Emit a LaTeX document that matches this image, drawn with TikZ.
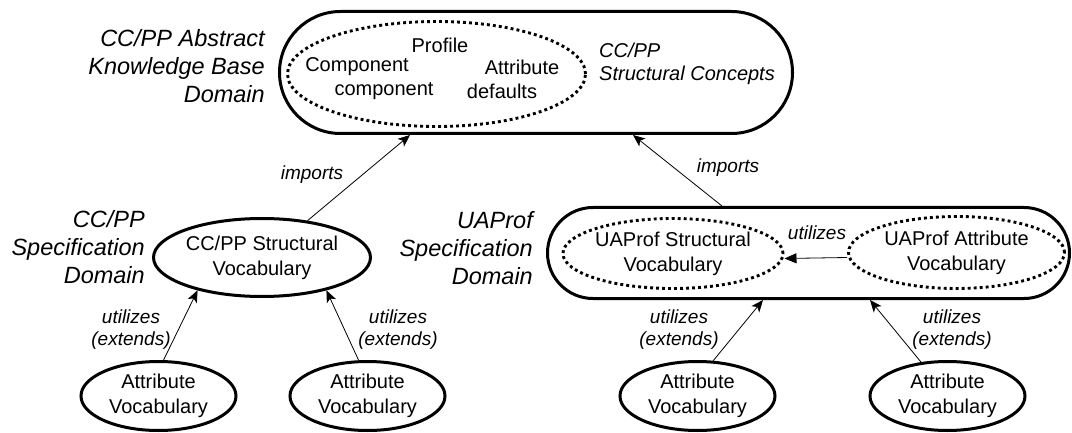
\documentclass[tikz,border=0pt]{standalone}
\usepackage{fontspec}
\setmainfont{Liberation Sans}
\usepackage{tikz}
\usetikzlibrary{arrows.meta}
\usetikzlibrary{shapes.geometric}

\tikzset{
	domainbox/.style = {draw, line width = 3pt, inner sep = 0pt},
	vocab/.style = {draw, ellipse, line width = 3pt, inner sep = 0pt, align = center, font = \fontsize{20}{25}\selectfont},
	dotvocab/.style = {vocab, line width = 2.9pt, dash pattern = on 2.9pt off 3.1pt},
	plaintext/.style = {inner sep = 0pt, font = \fontsize{20}{25}\selectfont},
	domainlabel/.style = {inner sep = 0pt, align = right, font = \fontsize{23.5}{28}\selectfont\itshape},
	linklabel/.style = {inner sep = 0pt, align = center, font = \fontsize{19}{22}\selectfont\itshape},
	link/.style = {-{Stealth[length = 12pt, width = 10pt, inset = 3pt]}, line width = 0.8pt},
}

\begin{document}
\begin{tikzpicture}[x = 1pt, y = -1pt]
	\useasboundingbox (0,0) rectangle (1072,433);

	% abstract knowledge base domain
	\node [domainbox, minimum width = 513pt, minimum height = 122pt, rounded corners = 61pt] (kb) at (536,72.5) {};
	\node [dotvocab, minimum width = 298pt, minimum height = 105pt] (concepts) at (436.5,74) {};
	\node [plaintext] (profile) at (440,45) {Profile};
	\node [plaintext] (component) at (357,67) {Component};
	\node [plaintext] (attribute) at (522,67) {Attribute};
	\node [plaintext] (compcomp) at (384,91) {component};
	\node [plaintext] (defaults) at (502,91) {defaults};
	\node [plaintext, align = left, anchor = west, font = \fontsize{20}{23}\selectfont\itshape] (conceptslabel) at (599,64) {CC/PP\\Structural Concepts};
	\node [domainlabel, anchor = east] (kblabel) at (265,66) {CC/PP Abstract\\Knowledge Base\\Domain};

	% CC/PP specification domain
	\node [vocab, minimum width = 217pt, minimum height = 78pt] (ccvocab) at (262,257.5) {CC/PP Structural\\Vocabulary};
	\node [domainlabel, anchor = east] (cclabel) at (145,247) {CC/PP\\Specification\\Domain};

	% UAProf specification domain
	\node [domainbox, minimum width = 522pt, minimum height = 91pt, rounded corners = 45.5pt] (uap) at (808.5,253) {};
	\node [dotvocab, minimum width = 217pt, minimum height = 70pt] (uastruct) at (673,253.5) {UAProf Structural\\Vocabulary};
	\node [dotvocab, minimum width = 216pt, minimum height = 72pt] (uaattr) at (956.5,252.5) {UAProf Attribute\\Vocabulary};
	\node [domainlabel, anchor = east] (uaplabel) at (533,248) {UAProf\\Specification\\Domain};

	% attribute vocabularies
	\node [vocab, minimum width = 155pt, minimum height = 69pt] (attrA) at (158.5,396) {Attribute\\Vocabulary};
	\node [vocab, minimum width = 155pt, minimum height = 69pt] (attrB) at (367.5,396) {Attribute\\Vocabulary};
	\node [vocab, minimum width = 155pt, minimum height = 69pt] (attrC) at (697.5,396) {Attribute\\Vocabulary};
	\node [vocab, minimum width = 155pt, minimum height = 69pt] (attrD) at (947.5,396) {Attribute\\Vocabulary};

	% imports
	\draw [link] (ccvocab.39) -- ([xshift = -126pt]kb.south);
	\draw [link] ([xshift = -86.5pt]uap.north) -- ([xshift = 97pt]kb.south);
	\node [linklabel] (importsA) at (312,175) {imports};
	\node [linklabel] (importsB) at (728,168) {imports};

	% utilizes (extends)
	\draw [link] (attrA.82) -- (ccvocab.207);
	\draw [link] (attrB.104) -- (ccvocab.333);
	\draw [link] (attrC.66) -- ([xshift = -45.5pt]uap.south);
	\draw [link] (attrD.128) -- ([xshift = 61.5pt]uap.south);
	\node [linklabel] (extendsA) at (131,330) {utilizes\\(extends)};
	\node [linklabel] (extendsB) at (398,330) {utilizes\\(extends)};
	\node [linklabel] (extendsC) at (679,330) {utilizes\\(extends)};
	\node [linklabel] (extendsD) at (952,330) {utilizes\\(extends)};

	% utilizes inside UAProf
	\draw [-{Triangle[length = 12pt, width = 10pt]}, line width = 0.8pt] ([yshift = -5pt]uaattr.west) -- ([yshift = -5pt]uastruct.east);
	\node [linklabel] (utilizes) at (817,233) {utilizes};

\end{tikzpicture}
\end{document}
